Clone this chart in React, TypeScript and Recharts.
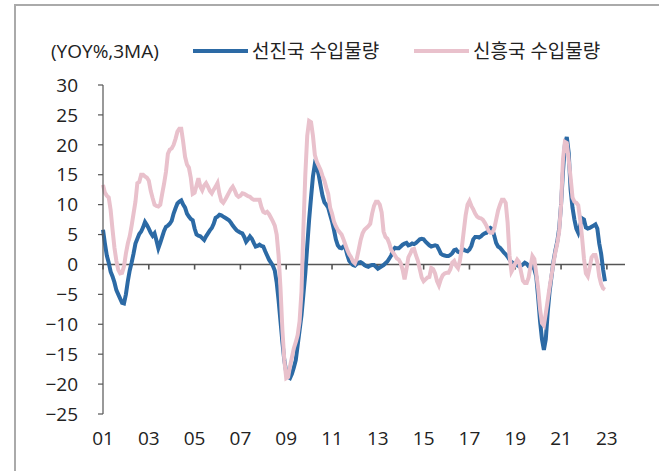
import {
  Legend,
  Line,
  LineChart,
  ReferenceLine,
  XAxis,
  YAxis,
} from "recharts";

// monthly, Jan 2001 .. Dec 2022 (YoY %, 3MA)
const advanced = [
  5.8, 3.5, 1.5, 0.3, -1.2, -2.0, -3.0, -4.3, -5.0, -5.7, -6.4, -6.5, // 01
  -5.0, -2.8, -1.0, 0.3, 1.8, 3.5, 4.3, 5.1, 5.5, 6.2, 7.1, 6.6, // 02
  6.0, 5.3, 4.8, 5.2, 4.0, 2.7, 3.6, 4.6, 5.6, 6.3, 6.5, 6.8, // 03
  7.3, 8.5, 9.4, 10.2, 10.5, 10.7, 10.0, 9.5, 8.5, 8.0, 7.6, 7.4, // 04
  6.0, 5.0, 4.8, 4.7, 4.4, 4.1, 4.7, 5.2, 5.7, 6.1, 6.8, 7.8, // 05
  8.0, 8.3, 8.2, 8.0, 7.8, 7.6, 7.4, 7.0, 6.5, 6.1, 5.7, 5.5, // 06
  5.3, 5.2, 4.6, 3.8, 4.2, 4.7, 4.3, 3.6, 3.0, 3.1, 3.3, 3.1, // 07
  3.0, 2.2, 1.5, 0.8, 0.3, -0.2, -1.0, -3.0, -6.0, -9.5, -13.0, -16.0, // 08
  -18.0, -18.8, -19.0, -18.3, -17.2, -16.0, -13.5, -11.0, -8.5, -5.0, -1.5, 3.0, // 09
  7.5, 11.2, 14.7, 16.8, 16.3, 15.0, 13.2, 11.5, 10.4, 10.0, 9.5, 8.3, // 10
  7.2, 5.8, 4.2, 3.2, 2.8, 2.7, 3.0, 2.8, 1.6, 0.6, 0.2, -0.1, // 11
  -0.2, 0.1, 0.3, 0.4, 0.2, -0.1, -0.3, -0.4, -0.2, -0.1, -0.1, -0.4, // 12
  -0.7, -0.5, -0.3, -0.1, 0.2, 0.5, 1.0, 1.5, 2.4, 2.8, 2.7, 2.7, // 13
  3.0, 3.3, 3.5, 3.6, 3.2, 3.3, 3.5, 3.4, 3.6, 3.9, 4.2, 4.3, // 14
  4.2, 3.8, 3.5, 3.2, 3.0, 3.1, 3.2, 3.1, 2.5, 1.8, 1.6, 1.5, // 15
  1.4, 1.4, 1.6, 1.9, 2.4, 2.5, 2.1, 2.0, 2.3, 2.5, 2.3, 2.2, // 16
  2.5, 3.1, 4.2, 4.6, 4.6, 4.5, 4.7, 5.0, 5.2, 5.3, 5.8, 6.1, // 17
  5.9, 4.8, 3.6, 3.0, 2.8, 2.4, 2.0, 1.7, 1.3, 0.8, 0.4, 0.2, // 18
  0.0, -0.1, -0.3, -0.2, 0.0, 0.3, 0.1, -0.3, -0.3, -0.3, -0.8, -2.0, // 19
  -5.5, -9.5, -12.5, -14.3, -12.5, -8.0, -4.5, -2.0, 0.5, 2.3, 3.8, 6.0, // 20
  10.0, 15.5, 20.0, 21.3, 18.7, 12.5, 9.5, 7.5, 6.0, 5.3, 6.5, 7.7, // 21
  7.5, 6.2, 6.0, 6.1, 6.3, 6.5, 6.7, 6.0, 3.5, 1.8, -0.8, -2.8, // 22
];

const emerging = [
  13.3, 12.0, 11.5, 11.2, 9.1, 5.8, 2.8, 0.6, -0.9, -1.5, -1.4, -0.3, // 01
  1.8, 3.5, 4.7, 6.5, 8.5, 10.5, 13.6, 13.8, 15.0, 15.0, 14.7, 14.5, // 02
  14.0, 12.3, 11.1, 10.0, 9.8, 9.7, 10.0, 11.8, 13.5, 15.5, 18.5, 19.2, // 03
  19.4, 20.0, 21.0, 22.2, 22.7, 22.7, 20.5, 18.0, 16.7, 16.2, 14.5, 11.8, // 04
  12.0, 13.2, 14.4, 13.0, 12.4, 13.2, 13.6, 13.0, 12.3, 11.9, 12.5, 13.0, // 05
  13.6, 11.8, 10.6, 10.3, 10.8, 11.4, 12.0, 12.6, 13.0, 12.4, 11.6, 11.3, // 06
  11.5, 11.9, 11.8, 11.6, 11.4, 11.3, 11.0, 10.8, 10.8, 10.8, 10.8, 9.6, // 07
  8.8, 8.6, 8.8, 8.4, 7.8, 7.2, 6.5, 5.0, 1.5, -4.0, -11.0, -16.0, // 08
  -19.0, -18.8, -17.0, -15.5, -14.0, -13.0, -11.8, -9.5, -4.5, 6.0, 15.0, 21.5, // 09
  24.0, 23.8, 21.5, 18.3, 17.2, 16.5, 15.8, 14.8, 14.0, 12.8, 11.8, 9.5, // 10
  8.5, 7.2, 6.4, 5.8, 5.4, 5.0, 4.2, 3.3, 2.4, 1.7, 1.2, 0.5, // 11
  0.2, 1.0, 2.5, 4.1, 5.2, 5.8, 6.1, 6.4, 6.8, 8.5, 9.8, 10.5, // 12
  10.5, 10.0, 8.7, 5.5, 4.6, 4.3, 3.5, 2.4, 2.0, 1.5, 1.0, 0.8, // 13
  0.2, -0.9, -2.5, -0.8, 1.2, 1.8, 2.5, 2.6, 1.5, 0.6, -0.8, -2.2, // 14
  -2.8, -2.5, -2.2, -2.1, -0.6, -0.8, -1.5, -2.8, -3.5, -2.5, -1.8, -1.5, // 15
  -1.4, -1.4, -0.8, 0.3, 0.6, -0.2, -0.6, 0.6, 2.8, 5.5, 8.2, 10.0, // 16
  10.6, 9.8, 9.2, 8.5, 8.0, 7.8, 7.7, 7.5, 7.0, 6.4, 5.6, 5.3, // 17
  5.3, 6.0, 7.5, 9.0, 10.0, 10.8, 10.8, 10.3, 7.0, 1.5, -1.2, -0.6, // 18
  0.2, 0.8, 0.4, -1.2, -2.7, -3.1, -3.1, -2.2, -0.3, 1.4, 0.9, -1.5, // 19
  -4.0, -7.5, -9.8, -10.2, -8.2, -6.0, -3.8, -1.8, 0.2, 2.0, 3.5, 5.5, // 20
  10.0, 17.5, 20.5, 20.3, 17.5, 14.5, 11.2, 10.5, 10.3, 9.9, 7.5, 4.5, // 21
  1.0, -1.5, -2.0, -0.5, 1.2, 1.6, 1.6, 0.4, -2.0, -3.3, -4.0, -4.2, // 22
];

const xLabels = ["01", "03", "05", "07", "09", "11", "13", "15", "17", "19", "21", "23"];
const yTicks = [-25, -20, -15, -10, -5, 0, 5, 10, 15, 20, 25, 30];
const unitLabel = "(YOY%,3MA)";
const seriesNames = ["선진국 수입물량", "신흥국 수입물량"];

const BLUE = "#2c6aa5";
const PINK = "#e9c1cc";
const AXIS = "#555";
const FONT = "'Open Sans', 'Noto Sans CJK KR', sans-serif";

const data = advanced.map((v, i) => ({ i, adv: v, emg: emerging[i] }));
const xTicks = xLabels.map((_, k) => k * 24);

function ChartLegend({ payload }: any) {
  const lefts = [193, 414];
  return (
    <div style={{ position: "relative", height: 30, fontFamily: FONT, fontSize: 19, color: "#222", lineHeight: "26px" }}>
      <span style={{ position: "absolute", left: 51, top: 0 }}>{unitLabel}</span>
      {(payload || []).map((p: any, k: number) => (
        <span key={p.value} style={{ position: "absolute", left: lefts[k], top: 0, display: "flex", alignItems: "center", whiteSpace: "nowrap" }}>
          <span style={{ display: "inline-block", width: 55, height: 4, background: p.color, marginRight: 4 }} />
          {p.value}
        </span>
      ))}
    </div>
  );
}

export default function App() {
  return (
    <div style={{ position: "absolute", left: 0, top: 0, width: 659, height: 471, background: "#fff" }}>
      <div
        style={{
          position: "absolute",
          left: 14,
          top: 4,
          right: 0,
          bottom: 0,
          borderLeft: "2px solid #aaa",
          borderTop: "2px solid #aaa",
        }}
      />
      <LineChart
        width={659}
        height={471}
        data={data}
        margin={{ top: 55, right: 34, bottom: 0, left: 0 }}
        style={{ fontFamily: FONT }}
      >
        <XAxis
          dataKey="i"
          type="number"
          domain={[0, 273.5]}
          ticks={xTicks}
          tickFormatter={(v: number) => xLabels[v / 24]}
          axisLine={false}
          tickLine={false}
          tickSize={6}
          tickMargin={12}
          height={57}
          tick={{ fill: "#222", fontSize: 19 }}
          interval={0}
        />
        <YAxis
          domain={[-25, 30]}
          ticks={yTicks}
          width={103}
          tickSize={5}
          tickMargin={20}
          axisLine={{ stroke: AXIS, strokeWidth: 1.2 }}
          tickLine={{ stroke: AXIS, strokeWidth: 1.2 }}
          tick={{ fill: "#222", fontSize: 19 }}
          tickFormatter={(v: number) => (v < 0 ? `−${-v}` : `${v}`)}
          interval={0}
        />
        <ReferenceLine y={0} stroke={AXIS} strokeWidth={1.6} />
        {xTicks.map((t) => (
          <ReferenceLine
            key={t}
            segment={[
              { x: t, y: 0 },
              { x: t, y: -0.85 },
            ]}
            stroke={AXIS}
            strokeWidth={1.6}
          />
        ))}
        <Legend
          verticalAlign="top"
          height={30}
          content={<ChartLegend />}
          wrapperStyle={{ position: "absolute", left: 0, top: 38, width: 659 }}
        />
        <Line
          type="linear"
          dataKey="adv"
          name={seriesNames[0]}
          stroke={BLUE}
          strokeWidth={4}
          dot={false}
          isAnimationActive={false}
        />
        <Line
          type="linear"
          dataKey="emg"
          name={seriesNames[1]}
          stroke={PINK}
          strokeWidth={4}
          dot={false}
          isAnimationActive={false}
        />
      </LineChart>
    </div>
  );
}
